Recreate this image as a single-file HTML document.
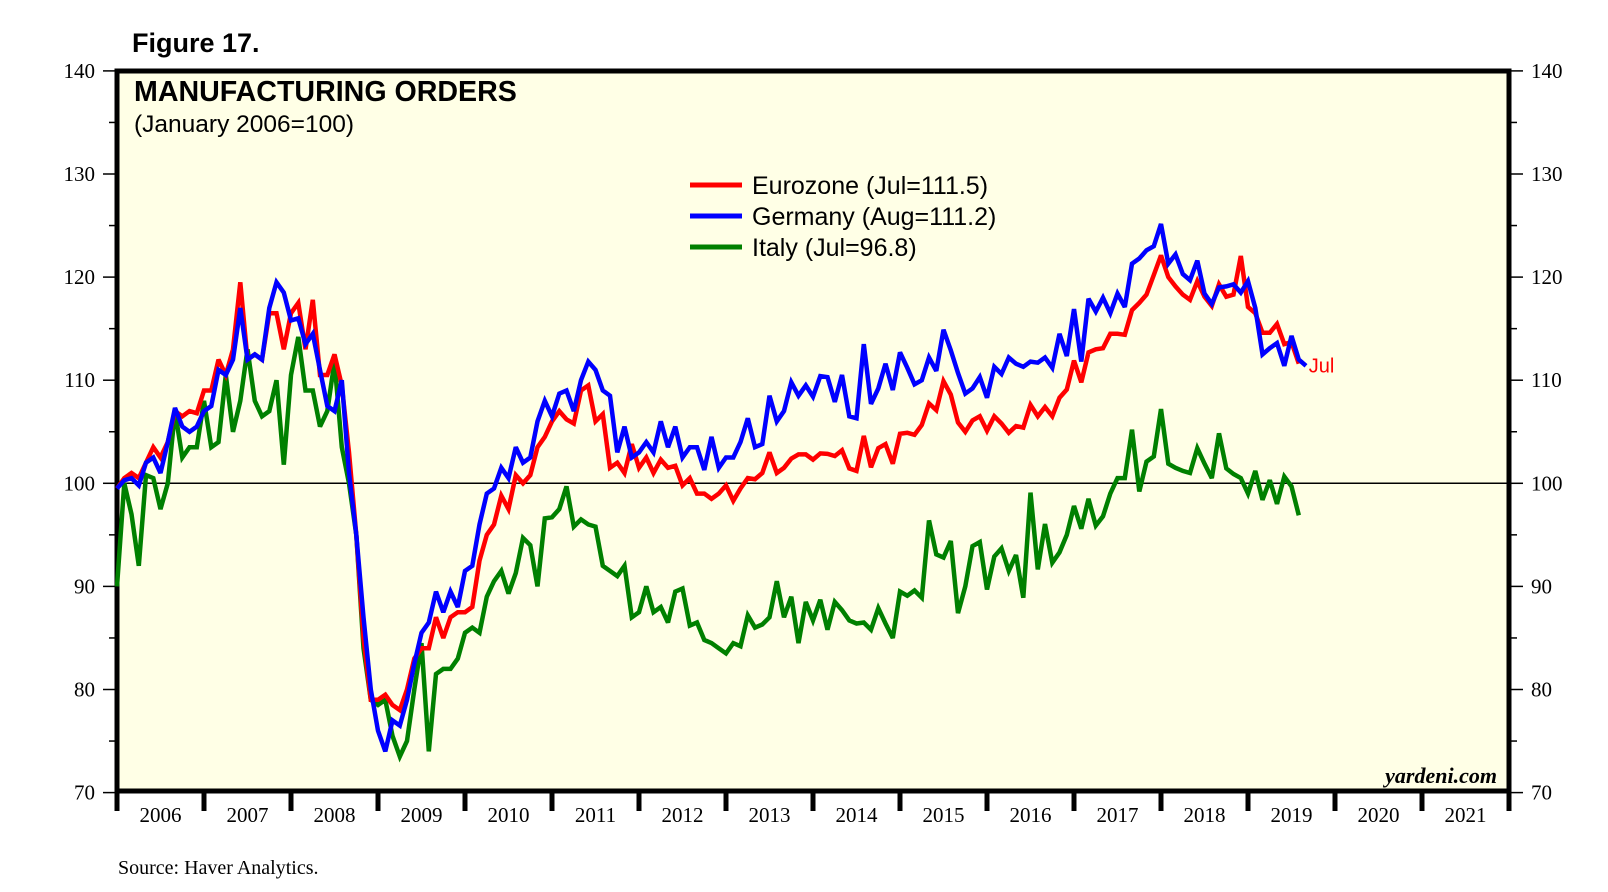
<!DOCTYPE html>
<html><head><meta charset="utf-8">
<style>
body{margin:0;background:#fff;}
svg{display:block;}
</style></head>
<body>
<svg id="chart" width="1608" height="892" xmlns="http://www.w3.org/2000/svg">
<rect x="117" y="71" width="1392" height="720" fill="#FFFFE6"/>
<text x="132" y="52" font-family="Liberation Sans, sans-serif" font-weight="bold" font-size="27">Figure 17.</text>
<text x="134" y="101" font-family="Liberation Sans, sans-serif" font-weight="bold" font-size="28.6">MANUFACTURING ORDERS</text>
<text x="134" y="132" font-family="Liberation Sans, sans-serif" font-size="24.5">(January 2006=100)</text>
<g id="axes"></g>
<g id="series"></g>
<g>
 <line x1="690" y1="185" x2="742" y2="185" stroke="#FF0000" stroke-width="5"/>
 <text x="752" y="194" font-family="Liberation Sans, sans-serif" font-size="25">Eurozone (Jul=111.5)</text>
 <line x1="690" y1="216" x2="742" y2="216" stroke="#0000FF" stroke-width="5"/>
 <text x="752" y="225" font-family="Liberation Sans, sans-serif" font-size="25">Germany (Aug=111.2)</text>
 <line x1="690" y1="247" x2="742" y2="247" stroke="#008000" stroke-width="5"/>
 <text x="752" y="256" font-family="Liberation Sans, sans-serif" font-size="25">Italy (Jul=96.8)</text>
</g>
<text x="1497" y="783" text-anchor="end" font-family="Liberation Serif, serif" font-weight="bold" font-style="italic" font-size="22">yardeni.com</text>
<text x="118" y="874" font-family="Liberation Serif, serif" font-size="20">Source: Haver Analytics.</text>
</svg>
<script>
const years = [2006,2007,2008,2009,2010,2011,2012,2013,2014,2015,2016,2017,2018,2019,2020,2021];
const yTicks = [70,80,90,100,110,120,130,140];
const eurozone = [
99.5,100.5,101,100.5,102,103.5,102.5,104,107,106.5,107,106.8,
109,109,112,110.5,113,119.5,112,112.5,112,116.5,116.5,113,
116.5,117.5,113,117.8,110.5,110.5,112.5,109.5,103,95,85,79,
79,79.5,78.5,78,80,83,84,84,87,85,87,87.5,
87.5,88,92.5,95,96,98.8,97.5,100.8,100,100.8,103.5,104.5,
106,107,106.2,105.8,109,109.5,106,106.7,101.5,102,101,103.8,
101.5,102.5,101,102.3,101.5,101.7,99.8,100.5,99,99,98.5,99,
99.8,98.3,99.5,100.5,100.4,101,103,101,101.5,102.4,102.8,102.8,
102.3,102.9,102.85,102.65,103.2,101.45,101.2,104.6,101.55,103.4,103.8,101.9,
104.8,104.9,104.7,105.65,107.75,107.1,109.9,108.6,105.9,105.0,106.1,106.5,
105.1,106.5,105.8,104.9,105.55,105.4,107.6,106.5,107.4,106.5,108.3,109.1,
111.9,109.8,112.7,113.0,113.1,114.5,114.5,114.4,116.8,117.5,118.3,120.2,
122.1,120.0,119.1,118.3,117.8,119.6,118.1,117.2,119.3,118.1,118.3,122.05,
117.1,116.5,114.6,114.6,115.45,113.5,113.7,111.6];
const germany = [
99.5,100.3,100.5,99.8,102,102.5,101,104,107.3,105.5,105,105.5,
107,107.5,111,110.5,112,117,112,112.5,112,117,119.5,118.5,
115.8,116,113.5,114.5,111,107.5,107,110,101,95,87,80,
76,74,77,76.5,79,82.5,85.5,86.5,89.5,87.5,89.5,88,
91.5,92,96,99,99.5,101.5,100.5,103.5,102,102.5,106,108,
106.5,108.7,109,107,110,111.8,111,109,108.5,103,105.5,102.5,
103,104,103,106,103.5,105.5,102.5,103.5,103.5,101.3,104.5,101.5,
102.5,102.5,104,106.3,103.5,103.8,108.5,106,107,109.8,108.5,109.5,
108.4,110.4,110.3,107.9,110.5,106.5,106.3,113.5,107.7,109.2,111.6,109.05,
112.7,111.2,109.6,110.0,112.2,110.9,114.9,112.9,110.7,108.7,109.2,110.3,
108.3,111.3,110.6,112.2,111.6,111.3,111.8,111.7,112.2,111.2,114.5,112.35,
116.9,111.8,117.9,116.65,118.0,116.5,118.4,117.1,121.3,121.8,122.6,123.0,
125.15,121.3,122.2,120.3,119.7,121.6,118.4,117.4,119.0,119.1,119.3,118.5,
119.6,117.0,112.5,113.1,113.6,111.4,114.3,112.0,111.4];
const italy = [
90,100,97,92,100.8,100.5,97.5,100,107,102.5,103.5,103.5,
108,103.5,104,110.5,105,108,113,108,106.5,107,110,101.8,
110.5,114.2,109,109,105.5,107,111.8,103.5,100,95,84,79,
78.5,79,75.5,73.5,75,80,84.5,74,81.5,82,82,83,
85.5,86,85.5,89,90.5,91.5,89.3,91.3,94.7,94,90,96.6,
96.7,97.5,99.7,95.8,96.5,96,95.8,92,91.5,91,92,87,
87.5,90,87.5,88,86.5,89.5,89.8,86.2,86.5,84.8,84.5,84,
83.5,84.5,84.2,87.2,86,86.3,87,90.5,87,89,84.5,88.5,
86.7,88.7,85.8,88.5,87.7,86.7,86.4,86.5,85.8,87.9,86.4,85.0,
89.5,89.1,89.6,88.9,96.4,93.1,92.8,94.4,87.4,90.0,93.9,94.3,
89.7,92.9,93.7,91.5,93.05,88.9,99.1,91.65,96.05,92.3,93.3,95.0,
97.8,95.6,98.5,95.9,96.8,99.0,100.5,100.5,105.2,99.2,102.1,102.6,
107.2,101.9,101.5,101.2,101.0,103.4,101.9,100.5,104.85,101.45,100.9,100.5,
99.0,101.2,98.4,100.3,98.0,100.65,99.7,96.9];

const X0=117, X1=1509, YTOP=71, YBOT=791;
const yearW=(X1-X0)/years.length;
function xMonth(i){return X0 + (i/12)*yearW;}
function yVal(v){return 483.3 - (v-100)*10.31;}
const NS='http://www.w3.org/2000/svg';
function mk(tag,attrs,parent){const e=document.createElementNS(NS,tag);for(const k in attrs)e.setAttribute(k,attrs[k]);parent.appendChild(e);return e;}
const axes=document.getElementById('axes');
const ser=document.getElementById('series');

const ref=mk('line',{x1:X0,x2:X1,y1:yVal(100),y2:yVal(100),stroke:'#000','stroke-width':1.5},axes);



for(let v=70; v<=140; v+=5){
  const y=yVal(v);
  const major = v%10===0;
  const lt=mk('line',{x1:X0-(major?14:8),x2:X0,y1:y,y2:y,stroke:'#000','stroke-width':1.5},axes);
  
  
  const rt=mk('line',{x1:X1,x2:X1+(major?14:8),y1:y,y2:y,stroke:'#000','stroke-width':1.5},axes);
  
  
}
yTicks.forEach(v=>{
  const y=yVal(v);
  const l=mk('text',{x:X0-22,y:y+7,'text-anchor':'end','font-family':'Liberation Serif, serif','font-size':21},axes);
  l.textContent=v;
  
  
  const r=mk('text',{x:X1+22,y:y+7,'font-family':'Liberation Serif, serif','font-size':21},axes);
  r.textContent=v;
  
  
});
for(let i=0;i<=years.length;i++){
  const x=X0+i*yearW;
  const t=mk('line',{x1:x,x2:x,y1:YBOT,y2:YBOT+20,stroke:'#000','stroke-width':5},axes);
  
  
}
years.forEach((yr,i)=>{
  const l=mk('text',{x:X0+(i+0.5)*yearW,y:822,'text-anchor':'middle','font-family':'Liberation Serif, serif','font-size':21},axes);
  l.textContent=yr;
  
  
});

function drawSeries(arr,color,name){
  const pts=arr.map((v,i)=>xMonth(i).toFixed(1)+','+yVal(v).toFixed(1)).join(' ');
  const p=mk('polyline',{points:pts,fill:'none',stroke:color,'stroke-width':4.5,'stroke-linejoin':'miter','stroke-miterlimit':3},ser);
  
  
}
drawSeries(italy,'#008000','italy-line');
drawSeries(eurozone,'#FF0000','eurozone-line');
drawSeries(germany,'#0000FF','germany-line');

const jl=mk('text',{x:xMonth(eurozone.length-1)+10,y:yVal(eurozone[eurozone.length-1])+9,'font-family':'Liberation Sans, sans-serif','font-size':20,fill:'#FF0000'},ser);
jl.textContent='Jul';



const fr=mk('rect',{x:X0,y:YTOP,width:X1-X0,height:YBOT-YTOP,fill:'none',stroke:'#000','stroke-width':5},axes);


</script>
</body></html>
